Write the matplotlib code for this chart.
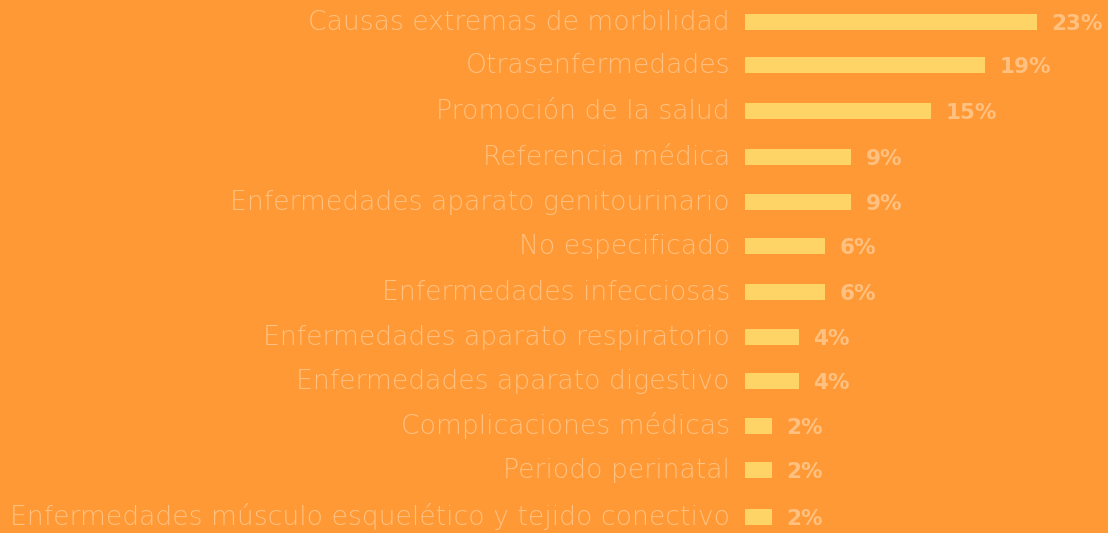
import numpy as np
import matplotlib
matplotlib.use("Agg")
import matplotlib.pyplot as plt

# categories top to bottom
categories = [
    "Causas extremas de morbilidad",
    "Otrasenfermedades",
    "Promoción de la salud",
    "Referencia médica",
    "Enfermedades aparato genitourinario",
    "No especificado",
    "Enfermedades infecciosas",
    "Enfermedades aparato respiratorio",
    "Enfermedades aparato digestivo",
    "Complicaciones médicas",
    "Periodo perinatal",
    "Enfermedades músculo esquelético y tejido conectivo",
]
# bar lengths (percent)
values = [22.9, 18.8, 14.6, 8.3, 8.3, 6.3, 6.3, 4.2, 4.2, 2.1, 2.1, 2.1]
# labels as printed
value_labels = ["23%", "19%", "15%", "9%", "9%", "6%", "6%", "4%", "4%", "2%", "2%", "2%"]
# vertical row positions (slightly uneven in the original)
rows = [0, 0.96, 1.98, 3.0, 4.0, 4.98, 6.0, 7.0, 7.98, 8.98, 9.96, 11.0]

bg = "#FE9935"
bar_col = "#FFD466"
txt_col = "#FFC080"
bar_h = 0.36

fig = plt.figure(figsize=(11.08, 5.33), dpi=100, facecolor=bg)
ax = fig.add_axes([745/1108, 0, 1 - 745/1108, 1])
ax.set_facecolor(bg)

ax.barh(rows, values, height=bar_h, color=bar_col)

ax.set_xlim(0, 363/12.75)
ax.set_ylim(11 + 16/45, -22/45)
ax.set_xticks([])
ax.set_yticks([])
for s in ax.spines.values():
    s.set_visible(False)

# category names, baseline on the bar's lower edge
for r, name in zip(rows, categories):
    ax.annotate(name, xy=(0, r + bar_h/2), xytext=(-10.8, 0), textcoords="offset points",
                ha="right", va="baseline", color=txt_col, fontsize=19.2,
                fontfamily="DejaVu Sans", fontweight="light", annotation_clip=False)

for r, v, lbl in zip(rows, values, value_labels):
    ax.annotate(lbl, xy=(v, r + bar_h/2), xytext=(10.5, 0), textcoords="offset points",
                ha="left", va="baseline", color=txt_col, fontsize=15.5,
                fontweight="bold", fontfamily="DejaVu Sans", annotation_clip=False)

plt.savefig("out.png", dpi=100, facecolor=bg)
plt.close(fig)
